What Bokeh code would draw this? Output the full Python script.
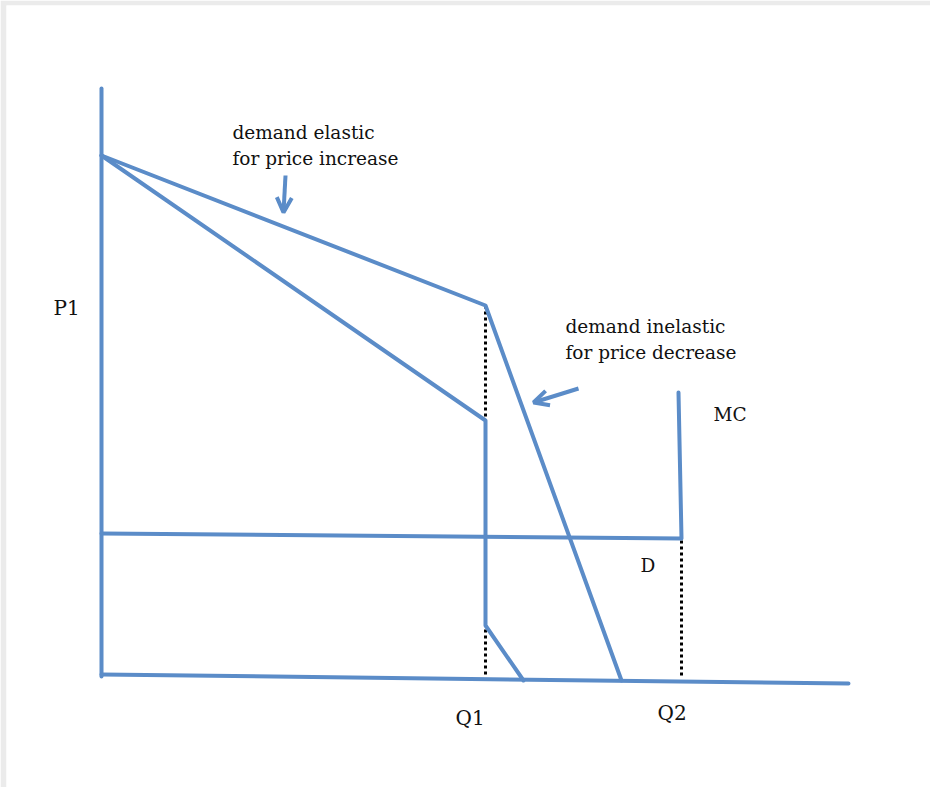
from bokeh.plotting import figure
from bokeh.models import Range1d, Arrow, OpenHead
from bokeh.core.properties import value
from bokeh.embed import file_html
from bokeh.resources import INLINE

# ---- data (quantity, price in arbitrary diagram units) ----
price_axis_q = [0, 0]
price_axis_p = [589, 1]
qty_axis_q = [0, 747]
qty_axis_p = [3, -6]

kinked_demand_q = [0, 384, 520]
kinked_demand_p = [522, 372, -3]

marginal_rev_q = [0, 384, 384, 422]
marginal_rev_p = [522, 257, 52, -3]

mc_q = [0, 580, 577]
mc_p = [144, 139, 285]

q1_guide_q = [384, 384]
q1_guide_p = [372, 0]
q2_guide_q = [580, 580]
q2_guide_p = [137, 0]

note_text = ["demand elastic", "for price increase", "demand inelastic",
             "for price decrease", "MC", "D"]
note_q = [131, 131, 464, 464, 612, 539]
note_p = [545, 519, 351, 325, 263, 112]

tick_text = ["P1", "Q1", "Q2"]
tick_q = [-48, 354, 556]
tick_p = [370, -40, -35]

BLUE = "#5b8cc8"

p = figure(width=930, height=787, output_backend="svg", toolbar_location=None,
           x_range=Range1d(-95, 829), y_range=Range1d(-110, 672),
           min_border=0, min_border_left=6, min_border_top=5,
           min_border_right=0, min_border_bottom=0, outline_line_color=None)
p.axis.visible = False
p.grid.visible = False
p.background_fill_color = "white"
p.border_fill_color = "#ebebeb"

# dotted guides
p.line(q1_guide_q, q1_guide_p, line_color="black", line_width=3, line_dash="3 3")
p.line(q2_guide_q, q2_guide_p, line_color="black", line_width=3, line_dash="3 3")

for xs, ys in [(price_axis_q, price_axis_p), (qty_axis_q, qty_axis_p),
               (kinked_demand_q, kinked_demand_p), (marginal_rev_q, marginal_rev_p),
               (mc_q, mc_p)]:
    p.line(xs, ys, line_color=BLUE, line_width=4, line_join="round", line_cap="round")

p.add_layout(Arrow(end=OpenHead(size=15, line_width=4, line_color=BLUE),
                   x_start=184, y_start=502, x_end=182, y_end=465,
                   line_color=BLUE, line_width=4))
p.add_layout(Arrow(end=OpenHead(size=15, line_width=4, line_color=BLUE),
                   x_start=477, y_start=289, x_end=432, y_end=275,
                   line_color=BLUE, line_width=4))

p.text(note_q, note_p, text=note_text, text_font=value("DejaVu Serif"),
       text_font_size="18.5px", text_color="#111111", text_baseline="middle",
       text_align="left")
p.text(tick_q, tick_p, text=tick_text, text_font=value("DejaVu Serif"),
       text_font_size="20px", text_color="#111111", text_baseline="middle",
       text_align="left")

open("out.html", "w").write(file_html(p, INLINE))
